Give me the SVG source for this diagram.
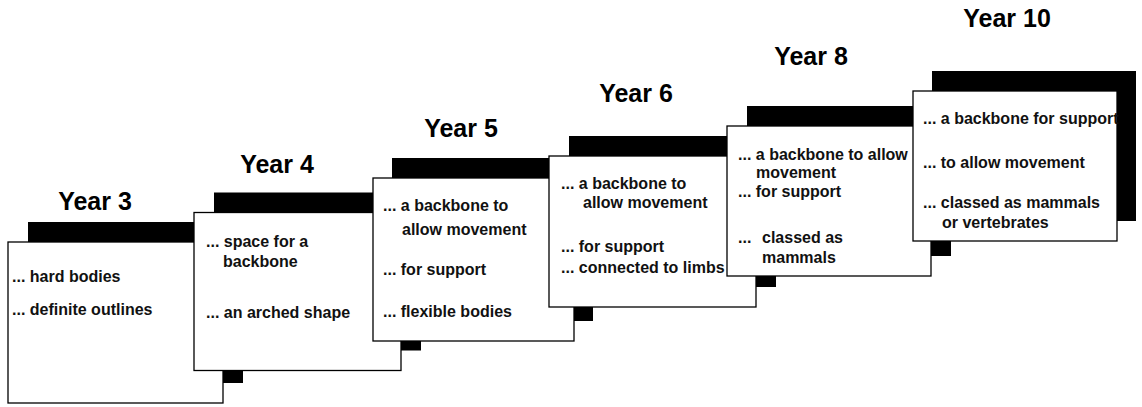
<svg xmlns="http://www.w3.org/2000/svg" width="1142" height="407" viewBox="0 0 1142 407">
<style>
.bg{fill:#ffffff}
.shadow{fill:#000000}
.card{fill:#ffffff;stroke:#000000;stroke-width:1.3}
.title{font-family:"Liberation Sans",Arial,sans-serif;font-weight:bold;font-size:25px;fill:#000000;text-anchor:middle}
.t{font-family:"Liberation Sans",Arial,sans-serif;font-weight:bold;font-size:16px;fill:#111111}
</style>
<rect class="bg" x="0" y="0" width="1142" height="407"/>
<g id="connectors"></g>
<g id="year3">
<text class="title" x="95" y="210">Year 3</text>
<rect class="shadow" x="28" y="222" width="215" height="161"/>
<rect class="card" x="8" y="242" width="215" height="161"/>
<text class="t" x="12" y="282">... hard bodies</text>
<text class="t" x="12" y="315">... definite outlines</text>
</g>
<g id="year4">
<text class="title" x="277" y="173">Year 4</text>
<rect class="shadow" x="214" y="192.5" width="207" height="158"/>
<rect class="card" x="194" y="212.5" width="207" height="158"/>
<text class="t" x="206" y="247">... space for a</text>
<text class="t" x="223" y="267">backbone</text>
<text class="t" x="206" y="318">... an arched shape</text>
</g>
<g id="year5">
<text class="title" x="461" y="137">Year 5</text>
<rect class="shadow" x="392" y="158" width="201" height="163"/>
<rect class="card" x="373" y="178" width="201" height="163"/>
<text class="t" x="383" y="211">... a backbone to</text>
<text class="t" x="402" y="235">allow movement</text>
<text class="t" x="383" y="275">... for support</text>
<text class="t" x="383" y="317">... flexible bodies</text>
</g>
<g id="year6">
<text class="title" x="636" y="102">Year 6</text>
<rect class="shadow" x="569" y="136" width="207" height="151"/>
<rect class="card" x="549" y="156" width="207" height="151"/>
<text class="t" x="561" y="189">... a backbone to</text>
<text class="t" x="583" y="208">allow movement</text>
<text class="t" x="561" y="252">... for support</text>
<text class="t" x="561" y="273">... connected to limbs</text>
</g>
<g id="year8">
<text class="title" x="811" y="65">Year 8</text>
<rect class="shadow" x="747" y="106" width="204" height="150"/>
<rect class="card" x="727" y="126" width="204" height="150"/>
<text class="t" x="738" y="160">... a backbone to allow</text>
<text class="t" x="756" y="178">movement</text>
<text class="t" x="738" y="197">... for support</text>
<text class="t" x="738" y="243">...</text>
<text class="t" x="762" y="243">classed as</text>
<text class="t" x="762" y="263">mammals</text>
</g>
<g id="year10">
<text class="title" x="1007" y="27">Year 10</text>
<rect class="shadow" x="932" y="71" width="204" height="150"/>
<rect class="card" x="913" y="91" width="204" height="150"/>
<text class="t" x="923" y="124">... a backbone for support</text>
<text class="t" x="923" y="168">... to allow movement</text>
<text class="t" x="923" y="208">... classed as mammals</text>
<text class="t" x="942" y="228">or vertebrates</text>
</g>
</svg>
